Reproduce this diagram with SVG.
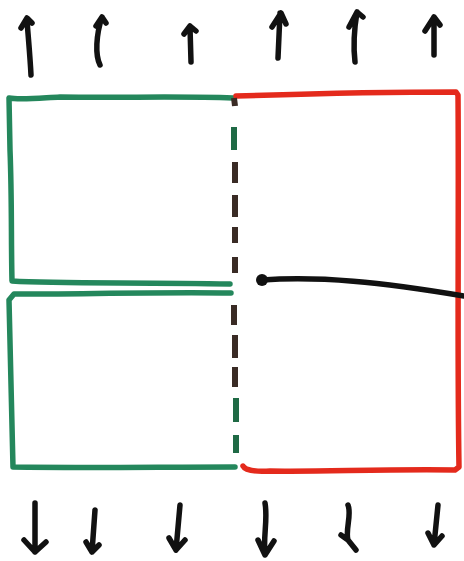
<svg xmlns="http://www.w3.org/2000/svg" width="464" height="561" viewBox="0 0 464 561">
<style>
.g{fill:none;stroke:#24875c;stroke-width:5.5;stroke-linecap:round;stroke-linejoin:round}
.r{fill:none;stroke:#e42a1c;stroke-width:5.5;stroke-linecap:round;stroke-linejoin:round}
.a{fill:none;stroke:#111;stroke-width:5.5;stroke-linecap:round;stroke-linejoin:round}
.d{fill:none;stroke:#3a2b25;stroke-width:6;stroke-linecap:butt}
.dg{fill:none;stroke:#1f6a45;stroke-width:6;stroke-linecap:butt}
</style>
<rect width="464" height="561" fill="#fff"/>
<g id="box-top-left">
<path class="g" d="M233,98 C180,96 120,98 60,97 C40,98 20,100 9,98 L10,150 C12,200 11,240 12,281 C60,284 140,282 230,284"/>
</g>
<g id="box-bottom-left">
<path class="g" d="M231,293 C160,292 80,294 14,294 L9,300 C10,360 12,420 13,467 C80,468 160,467 235,467"/>
</g>
<g id="box-right">
<path class="r" d="M236,96 C300,94 380,92 456,92 L458,95 C459,200 457,350 459,467 L455,470 C380,469 320,472 270,471 C255,472 245,470 243,466"/>
</g>
<g id="connectors">
<path class="d" d="M234,98 L235,106"/>
<path class="dg" d="M234,127 L234,150"/>
<path class="d" d="M235,162 L235,183"/>
<path class="d" d="M235,195 L235,217"/>
<path class="d" d="M235,227 L235,243"/>
<path class="d" d="M235,257 L235,273"/>
<path class="d" d="M234,305 L234,325"/>
<path class="d" d="M235,335 L235,358"/>
<path class="d" d="M235,367 L235,387"/>
<path class="dg" d="M236,398 L236,422"/>
<path class="dg" d="M236,435 L236,453"/>
<circle cx="262" cy="280" r="6" fill="#111"/>
<path class="a" d="M262,280 C320,276 380,282 464,296"/>
<path class="a" d="M31,75 C30,55 28,35 27,20 M21,28 L27,18 L32,23"/>
<path class="a" d="M100,65 C95,55 96,35 102,17 M96,26 L102,17 L106,23"/>
<path class="a" d="M191,62 L190,27 M184,34 L190,26 L196,31"/>
<path class="a" d="M278,58 L280,13 M272,27 L281,13 L286,24"/>
<path class="a" d="M355,62 C353,45 354,30 357,12 M349,27 L357,12 L363,17"/>
<path class="a" d="M434,55 L434,17 M425,31 L434,17 L440,25"/>
<path class="a" d="M35,503 L35,552 M24,540 L35,552 L46,542"/>
<path class="a" d="M95,510 L92,552 M86,542 L92,552 L99,545"/>
<path class="a" d="M180,505 L176,550 M169,538 L176,550 L185,540"/>
<path class="a" d="M265,503 C268,520 263,535 265,555 M258,540 L265,555 L274,541"/>
<path class="a" d="M348,505 C352,515 345,530 348,540 L356,550 M341,535 L348,540"/>
<path class="a" d="M438,505 L434,545 M428,533 L434,545 L442,536"/>
</g>
</svg>
